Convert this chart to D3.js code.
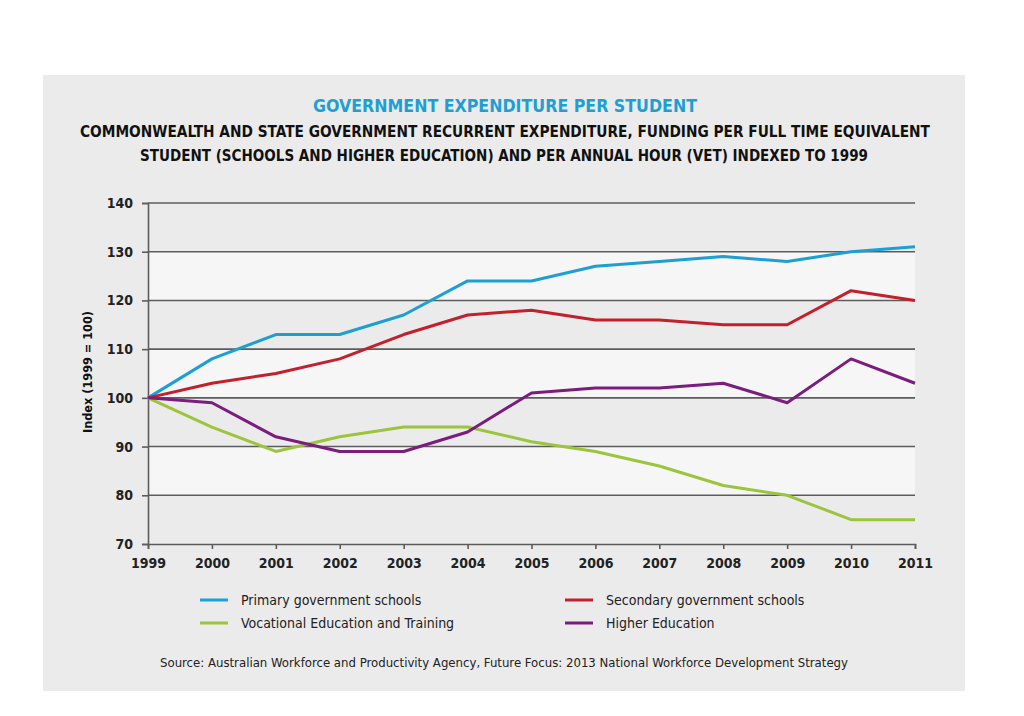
<!DOCTYPE html>
<html><head><meta charset="utf-8">
<script src="https://cdn.jsdelivr.net/npm/d3@7"></script>
<style>
html,body{margin:0;padding:0;background:#fff;}
svg text{font-family:"Liberation Sans Narrow","DejaVu Sans Condensed","Roboto",sans-serif;}
</style></head>
<body>
<svg id="c" width="1024" height="716"></svg>
<script>
const years = [1999,2000,2001,2002,2003,2004,2005,2006,2007,2008,2009,2010,2011];
const primary   = [100,108,113,113,117,124,124,127,128,129,128,130,131];
const secondary = [100,103,105,108,113,117,118,116,116,115,115,122,120];
const vet       = [100,94,89,92,94,94,91,89,86,82,80,75,75];
const higher    = [100,99,92,89,89,93,101,102,102,103,99,108,103];
const yTicks = [70,80,90,100,110,120,130,140];
const seriesNames = ["Primary government schools","Secondary government schools","Vocational Education and Training","Higher Education"];
const seriesColors = ["#1e9fd3","#c1202c","#9cc43d","#7a1d7e"];
const seriesData = [primary, secondary, vet, higher];

const svg = d3.select("#c");
svg.append("rect").attr("x",43).attr("y",75).attr("width",922).attr("height",616).attr("fill","#ebebeb");

const x = d3.scaleLinear().domain([1999,2011]).range([148,915]);
const y = d3.scaleLinear().domain([70,140]).range([544,203]);

// alternating bands
for (let i=0;i<yTicks.length-1;i++){
  const lo=yTicks[i], hi=yTicks[i+1];
  svg.append("rect").attr("x",x(1999)).attr("width",x(2011)-x(1999))
    .attr("y",y(hi)).attr("height",y(lo)-y(hi))
    .attr("fill", (i%2===1)?"#f6f6f6":"#ebebeb");
}

// gridlines
svg.append("g").selectAll("line").data(yTicks.filter(d=>d>70)).join("line")
  .attr("x1",x(1999)).attr("x2",x(2011)).attr("y1",d=>y(d)).attr("y2",d=>y(d))
  .attr("stroke","#5c5c5c").attr("stroke-width",1.6);

// axes
const yAxis = d3.axisLeft(y).tickValues(yTicks).tickSize(6).tickPadding(9).tickFormat(d3.format("d"));
const gy = svg.append("g").attr("transform",`translate(${x(1999)},0)`).call(yAxis);
const xAxis = d3.axisBottom(x).tickValues(years).tickSize(5).tickPadding(9).tickFormat(d3.format("d"));
const gx = svg.append("g").attr("transform",`translate(0,${y(70)})`).call(xAxis);
[gy,gx].forEach(g=>{
  g.select(".domain").attr("stroke","#5c5c5c").attr("stroke-width",1.6);
  g.selectAll(".tick line").attr("stroke","#5c5c5c").attr("stroke-width",1.6);
  g.selectAll("text").attr("fill","#222").attr("font-size",14).attr("font-weight","bold")
   .style("font-family",'"Liberation Sans Narrow","DejaVu Sans Condensed",sans-serif');
});

// lines
const line = d3.line().x((d,i)=>x(years[i])).y(d=>y(d));
seriesData.forEach((s,k)=>{
  svg.append("path").datum(s).attr("d",line).attr("fill","none")
    .attr("stroke",seriesColors[k]).attr("stroke-width",3).attr("stroke-linejoin","round");
});

// titles
svg.append("text").attr("x",505).attr("y",112).attr("text-anchor","middle")
  .attr("font-size",18).attr("font-weight","bold").attr("fill","#1e9fd3")
  .attr("textLength",384).attr("lengthAdjust","spacingAndGlyphs")
  .text("GOVERNMENT EXPENDITURE PER STUDENT");
svg.append("text").attr("x",505).attr("y",137).attr("text-anchor","middle")
  .attr("font-size",16).attr("font-weight","bold").attr("fill","#111")
  .attr("textLength",850).attr("lengthAdjust","spacingAndGlyphs")
  .text("COMMONWEALTH AND STATE GOVERNMENT RECURRENT EXPENDITURE, FUNDING PER FULL TIME EQUIVALENT");
svg.append("text").attr("x",504).attr("y",161).attr("text-anchor","middle")
  .attr("font-size",16).attr("font-weight","bold").attr("fill","#111")
  .attr("textLength",728).attr("lengthAdjust","spacingAndGlyphs")
  .text("STUDENT (SCHOOLS AND HIGHER EDUCATION) AND PER ANNUAL HOUR (VET) INDEXED TO 1999");

// y label
svg.append("text").attr("transform","translate(92,372) rotate(-90)").attr("text-anchor","middle")
  .attr("font-size",13).attr("font-weight","bold").attr("fill","#111")
  .attr("textLength",122).attr("lengthAdjust","spacingAndGlyphs")
  .text("Index (1999 = 100)");

// legend
const legPos = [[200,600],[565,600],[200,623],[565,623]];
seriesNames.forEach((n,k)=>{
  const [lx,ly]=legPos[k];
  svg.append("line").attr("x1",lx).attr("x2",lx+28).attr("y1",ly).attr("y2",ly)
    .attr("stroke",seriesColors[k]).attr("stroke-width",3);
  svg.append("text").attr("x",lx+41).attr("y",ly+5).attr("font-size",14).attr("fill","#222")
    .text(n);
});

// source
svg.append("text").attr("x",504).attr("y",667).attr("text-anchor","middle")
  .attr("font-size",13).attr("fill","#222")
  .attr("textLength",688).attr("lengthAdjust","spacingAndGlyphs")
  .text("Source: Australian Workforce and Productivity Agency, Future Focus: 2013 National Workforce Development Strategy");
</script>
</body></html>
